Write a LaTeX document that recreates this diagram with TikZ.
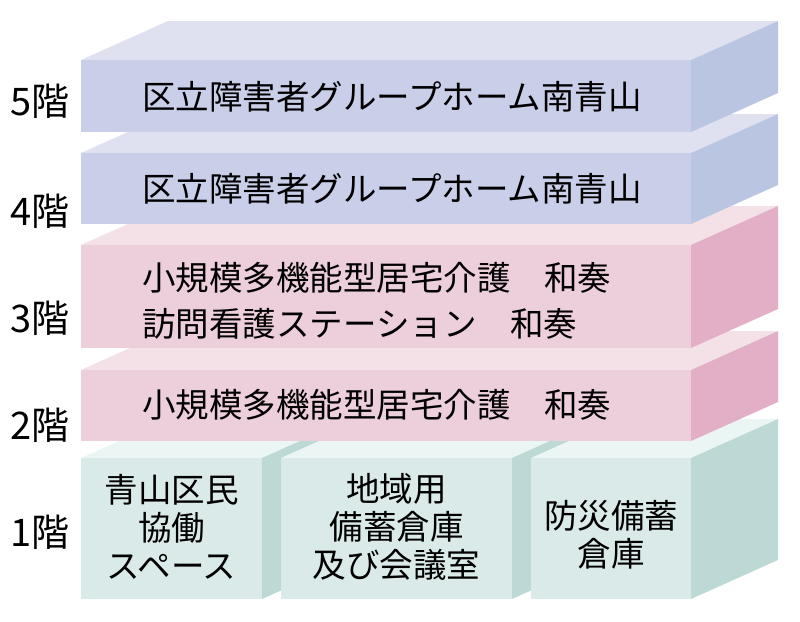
\documentclass[tikz,border=0pt]{standalone}
\usepackage{fontspec}
\newfontfamily\jpfont{Noto Sans CJK JP}
\usetikzlibrary{positioning}
\definecolor{blueFront}{HTML}{C9CEE9}
\definecolor{blueTop}{HTML}{DFE1F1}
\definecolor{blueSide}{HTML}{B9C5E1}
\definecolor{pinkFront}{HTML}{EDCEDB}
\definecolor{pinkTop}{HTML}{F3E1E7}
\definecolor{pinkSide}{HTML}{E2AFC6}
\definecolor{tealFront}{HTML}{D9EAE8}
\definecolor{tealTop}{HTML}{EBF5F4}
\definecolor{tealSide}{HTML}{BDD9D5}
\tikzset{
room text/.style={font=\jpfont\fontsize{33.5}{38}\selectfont, inner sep=0pt, align=center},
wide text/.style={font=\jpfont\fontsize{33.5}{46}\selectfont, inner sep=0pt, align=left, anchor=west},
floor label/.style={font=\jpfont\fontsize{38}{40}\selectfont, inner sep=0pt, anchor=east}
}
% slab: x left, x right, y top, y bottom, colour
\newcommand{\slab}[5]{%
  \fill[#5Top] (#1,#3) -- ++(87,-39) -- ++(#2-#1,0) -- (#2,#3) -- cycle;
  \fill[#5Side] (#2,#3) -- ++(87,-39) -- ++(0,#4-#3) -- (#2,#4) -- cycle;
  \fill[#5Front] (#1,#3) rectangle (#2,#4);
}
\begin{document}
\begin{tikzpicture}[x=1pt, y=-1pt]
   \useasboundingbox (0,0) rectangle (800,621);
   % 1st floor rooms
   \slab{81}{262}{458}{599}{teal}
   \slab{281}{512}{458}{599}{teal}
   \slab{531}{691}{458}{599}{teal}
   % upper floors
   \slab{81}{691}{370}{441}{pink}
   \slab{81}{691}{245}{348}{pink}
   \slab{81}{691}{153}{224}{blue}
   \slab{81}{691}{60}{132}{blue}
   \node[wide text] (gh5) at (142,97) {区立障害者グループホーム南青山};
   \node[wide text] (gh4) at (142,189) {区立障害者グループホーム南青山};
   \node[wide text] (care3) at (142,301) {小規模多機能型居宅介護　和奏\\訪問看護ステーション　和奏};
   \node[wide text] (care2) at (142,405) {小規模多機能型居宅介護　和奏};
   \node[room text] (kyodo) at (171.5,527) {青山区民\\協働\\スペース};
   \node[room text] (bichiku) at (396.5,527) {地域用\\備蓄倉庫\\及び会議室};
   \node[room text] (bosai) at (611,535) {防災備蓄\\倉庫};
   \node[floor label] (l5) at (70,101) {5階};
   \node[floor label] (l4) at (70,211) {4階};
   \node[floor label] (l3) at (70,318) {3階};
   \node[floor label] (l2) at (70,425) {2階};
   \node[floor label] (l1) at (70,532) {1階};
\end{tikzpicture}
\end{document}
